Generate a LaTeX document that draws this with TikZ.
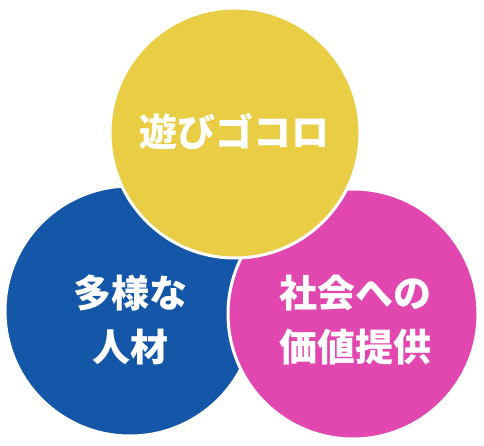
\documentclass[tikz,border=0pt]{standalone}
\usepackage{fontspec}
\newfontfamily\jpfont{Noto Sans CJK JP}
\usetikzlibrary{positioning}
\definecolor{asobiColor}{HTML}{E9CD45}
\definecolor{jinzaiColor}{HTML}{1456A7}
\definecolor{kachiColor}{HTML}{E147AE}
\tikzset{circle state/.style={circle, draw=white, line width=3pt, minimum size=250pt, inner sep=0pt}}
\tikzset{circle text/.style={text=white, align=center, font={\jpfont\bfseries\fontsize{38}{54}\selectfont}}}
\begin{document}
\begin{tikzpicture}[x=1pt,y=-1pt]
	\useasboundingbox (0,0) rectangle (484,446);
	\node[circle state, fill=jinzaiColor] at (130,311) (jinzai) {};
	\node[circle state, fill=kachiColor] at (353,314) (kachi) {};
	\node[circle state, fill=asobiColor] at (235,133) (asobi) {};
	\node[circle text] at (234,132) (t_asobi) {遊びゴコロ};
	\node[circle text] at (130,320) (t_jinzai) {多様な\\人材};
	\node[circle text] at (355,320) (t_kachi) {社会への\\価値提供};
\end{tikzpicture}
\end{document}
